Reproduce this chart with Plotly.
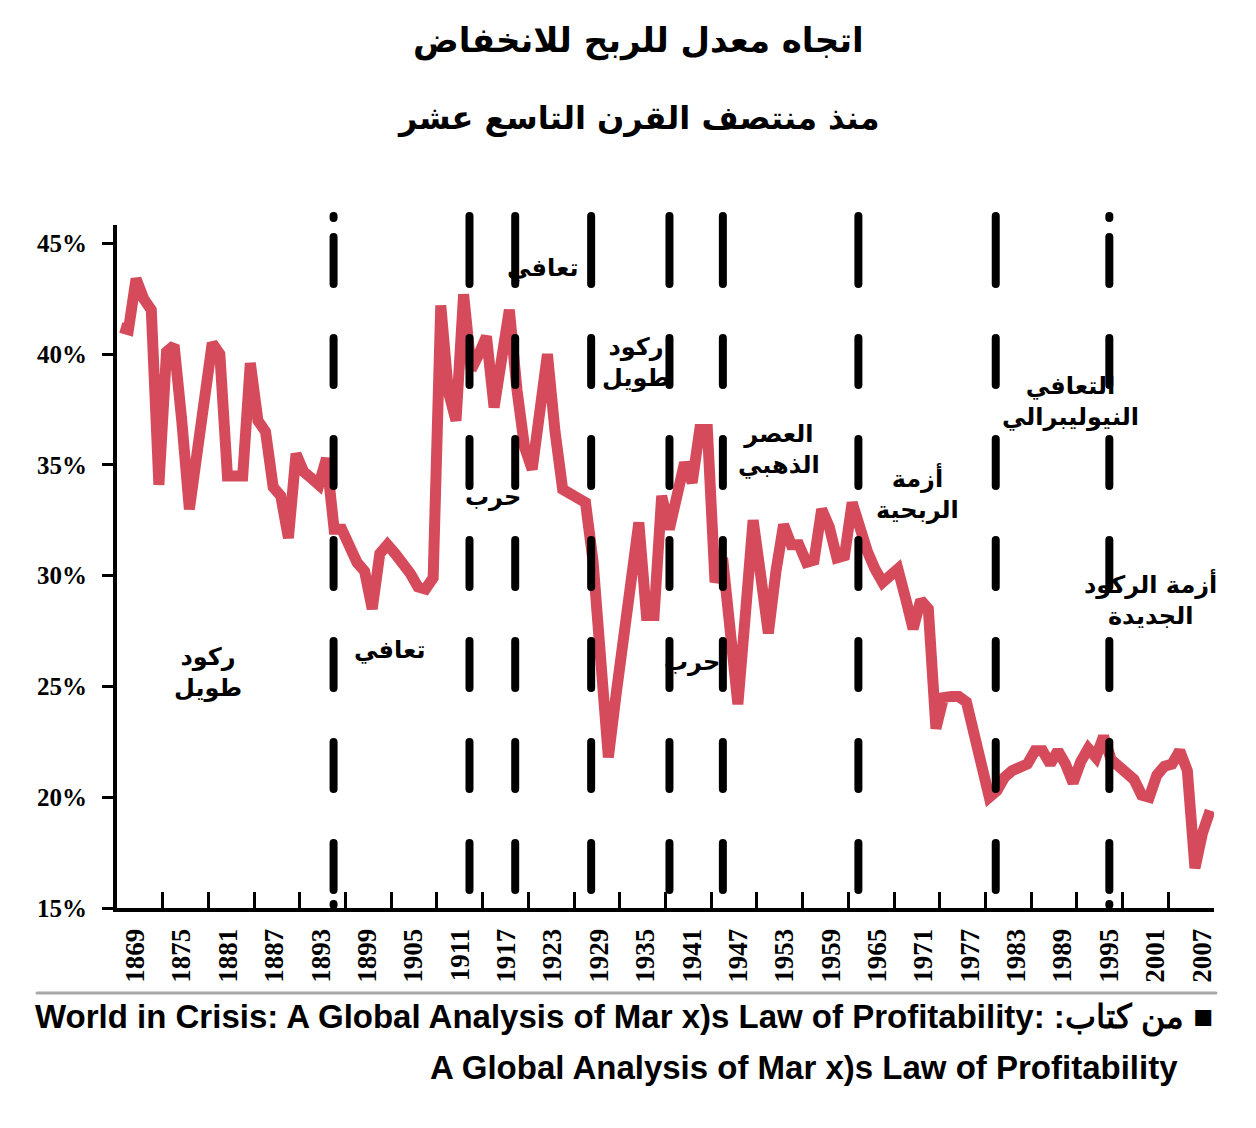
import plotly.graph_objects as go

# ---------------- data ----------------
years = list(range(1869, 2013))
profit_rate = [
    41.2, 41.1, 43.4, 42.5, 42.0, 34.1, 40.1, 40.4, 37.0, 33.0,   # 1869-1878
    35.5, 38.0, 40.5, 40.0, 34.5, 34.5, 34.5, 39.6, 37.0, 36.5,   # 1879-1888
    34.0, 33.6, 31.7, 35.5, 34.7, 34.4, 34.1, 35.3, 32.1, 32.1,   # 1889-1898
    31.2, 30.6, 30.2, 28.5, 31.0, 31.4, 31.0, 30.6, 30.1, 29.5,   # 1899-1908
    29.4, 29.9, 42.2, 38.3, 37.0, 42.7, 39.3, 40.0, 40.8, 37.6,   # 1909-1918
    39.6, 42.0, 38.4, 35.8, 34.8, 37.4, 40.0, 36.5, 33.9, 33.7,   # 1919-1928
    33.5, 33.3, 30.6, 26.8, 21.8, 24.6, 27.2, 29.8, 32.4, 28.2,   # 1929-1938
    28.2, 33.6, 32.1, 33.6, 35.1, 34.2, 36.6, 36.6, 29.7, 30.8,   # 1939-1948
    27.3, 24.2, 28.3, 32.5, 30.0, 27.4, 30.2, 32.3, 31.4, 31.4,   # 1949-1958
    30.6, 30.7, 33.0, 32.2, 30.8, 30.9, 33.3, 32.1, 31.1, 30.3,   # 1959-1968
    29.7, 30.0, 30.3, 29.0, 27.6, 28.9, 28.5, 23.1, 24.5, 24.55,  # 1969-1978
    24.55, 24.3, 22.9, 21.5, 20.0, 20.3, 20.9, 21.2, 21.3, 21.5,  # 1979-1988
    22.1, 22.1, 21.5, 22.1, 21.5, 20.65, 21.6, 22.2, 21.8, 22.75, # 1989-1998
    21.7, 21.4, 21.2, 20.8, 20.1, 20.0, 21.0, 21.4, 21.5, 22.1,   # 1999-2008
    21.2, 16.8, 18.4, 19.4,                                        # 2009-2012
]

y_tick_values = [15, 20, 25, 30, 35, 40, 45]
y_tick_labels = ["15%", "20%", "25%", "30%", "35%", "40%", "45%"]

x_label_years = list(range(1869, 2008, 6))
x_label_text = [str(y) for y in x_label_years]

# boundaries between historical periods
period_breaks = [1896.93, 1914.77, 1920.77, 1930.74, 1941.02, 1948.03, 1965.82, 1983.85, 1998.76]

period_labels = ["ركود<br>طويل", "تعافي", "حرب", "تعافي", "ركود<br>طويل", "حرب",
                 "العصر<br>الذهبي", "أزمة<br>الربحية", "التعافي<br>النيوليبرالي",
                 "أزمة الركود<br>الجديدة"]

title_lines = ["اتجاه معدل للربح للانخفاض", "منذ منتصف القرن التاسع عشر"]
source_line1 = "World in Crisis: A Global Analysis of Mar x)s Law of Profitability: :من كتاب ■"
source_line2 = "A Global Analysis of Mar x)s Law of Profitability"

# ---------------- layout helpers ----------------
OFF = 8                      # page body margin
W, H = 1240, 1112
L, T = 109, 217
PW, PH = 1097, 683
R, B = W - L - PW, H - T - PH


def px_x(px):
    return (px - OFF - L) / PW


def px_y(py):
    return (T + PH - (py - OFF)) / PH


RED = "#D64B5B"
AR_FONT = "DejaVu Sans, Noto Sans, sans-serif"
SERIF = "Liberation Serif, Times New Roman, serif"

fig = go.Figure()
fig.add_trace(go.Scatter(x=years, y=profit_rate, mode="lines",
                         line=dict(color=RED, width=11), hoverinfo="skip"))

# vertical dashed period lines (round caps added in post script)
rep = ",".join(["47px,54px"] * 6)
dash_full = "68px,54px," + rep + ",47px,14px,1px,200px"
dash_gap = "2px,19px," + rep + ",47px,14px,1px,200px"
gap_top = {0, 8}
for i, xb in enumerate(period_breaks):
    fig.add_shape(type="line", xref="x", yref="paper", x0=xb, x1=xb,
                  y0=px_y(216), y1=px_y(906),
                  line=dict(color="black", width=8,
                            dash=dash_gap if i in gap_top else dash_full),
                  layer="above")

# separator line above source
fig.add_shape(type="line", xref="paper", yref="paper",
              x0=px_x(37), x1=px_x(1216), y0=px_y(993), y1=px_y(993),
              line=dict(color="#A8A8A8", width=3))

# period annotations (pixel centres)
label_pos = [(208, 672), (390, 650), (493, 497), (543, 268), (636, 362), (692, 662),
             (779, 449), (917, 493), (1070, 401), (1150, 599)]
for txt, (px, py) in zip(period_labels, label_pos):
    fig.add_annotation(text=txt, xref="paper", yref="paper", x=px_x(px), y=px_y(py),
                       showarrow=False, xanchor="center", yanchor="middle", align="center",
                       font=dict(family=AR_FONT, size=24, color="black", weight="bold"))

# title
for txt, py, sz in zip(title_lines, [40, 118], [34, 32]):
    fig.add_annotation(text=txt, xref="paper", yref="paper", x=px_x(638), y=px_y(py),
                       showarrow=False, xanchor="center", yanchor="middle",
                       font=dict(family=AR_FONT, size=sz, color="black", weight="bold"))

# source
src_font = dict(family="Liberation Sans Narrow, Liberation Sans, sans-serif",
                size=33, color="black", weight="bold")
fig.add_annotation(text=source_line1, xref="paper", yref="paper", x=px_x(1215), y=px_y(1017),
                   showarrow=False, xanchor="right", yanchor="middle", font=src_font)
fig.add_annotation(text=source_line2, xref="paper", yref="paper", x=px_x(1180), y=px_y(1067),
                   showarrow=False, xanchor="right", yanchor="middle", font=src_font)

label_positions = [y + 1.9 + (y - 1869) * 0.0145 for y in x_label_years]
boundaries = [1868.5 + 6 * k for k in range(1, 25)]

fig.update_xaxes(range=[1868.5, 2012.5], showline=True, linewidth=4, linecolor="black",
                 showgrid=False, zeroline=False, tickmode="array",
                 tickvals=label_positions, ticktext=x_label_text, tickangle=-90,
                 ticks="inside", ticklen=0, tickwidth=0,
                 tickfont=dict(family=SERIF, size=27, color="black", weight="bold"),
                 ticklabelstandoff=6,
                 minor=dict(tickmode="array", tickvals=boundaries, ticks="inside",
                            ticklen=16, tickwidth=3, tickcolor="black"))
fig.update_yaxes(range=[15, 45.83], showline=True, linewidth=4, linecolor="black",
                 showgrid=False, zeroline=False, tickmode="array",
                 tickvals=y_tick_values, ticktext=y_tick_labels,
                 ticks="outside", ticklen=11, tickwidth=3, tickcolor="black",
                 tickfont=dict(family=SERIF, size=25, color="black", weight="bold"),
                 ticklabelstandoff=10)

fig.update_layout(width=W, height=H, margin=dict(l=L, r=R, t=T, b=B),
                  paper_bgcolor="white", plot_bgcolor="white", showlegend=False)

post = """
var gd = document.getElementById('{plot_id}');
function fixStyles(){
  gd.querySelectorAll('.shapelayer path').forEach(function(p){
    p.style.strokeLinecap = 'round';
  });
}
fixStyles();
gd.on('plotly_afterplot', fixStyles);
"""
fig.write_html("out.html", post_script=post)
